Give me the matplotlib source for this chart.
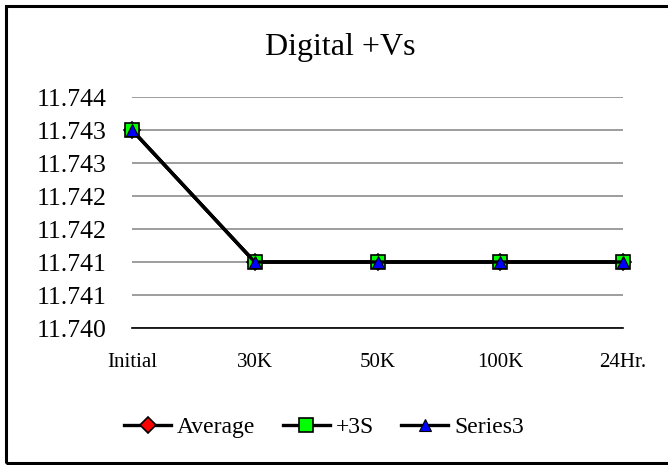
from decimal import Decimal, ROUND_HALF_UP
import matplotlib
matplotlib.use('Agg')
import matplotlib.pyplot as plt
from matplotlib.patches import Rectangle
from matplotlib.ticker import FuncFormatter, MultipleLocator

# data
categories = ['Initial', '30K', '50K', '100K', '24Hr.']
average = [11.7430, 11.7410, 11.7410, 11.7410, 11.7410]
plus_3s = [11.7430, 11.7410, 11.7410, 11.7410, 11.7410]
series3 = [11.7430, 11.7410, 11.7410, 11.7410, 11.7410]

plt.rcParams['font.family'] = 'Liberation Serif'

fig = plt.figure(figsize=(6.68, 4.65), dpi=100)
ax = fig.add_axes([132 / 668, 1 - 328 / 465, 491 / 668, 231 / 465])

x = range(len(categories))
ax.plot(x, average, color='black', lw=2.4, marker='D', markersize=8, clip_on=False,
        markerfacecolor='#ff0000', markeredgecolor='black', markeredgewidth=1.2, label='Average')
ax.plot(x, plus_3s, color='black', lw=2.4, marker='s', markersize=10, clip_on=False,
        markerfacecolor='#00ff00', markeredgecolor='black', markeredgewidth=1.2, label='+3S')
ax.plot(x, series3, color='black', lw=2.4, marker='^', markersize=9, clip_on=False,
        markerfacecolor='#0000ff', markeredgecolor='black', markeredgewidth=0.8, label='Series3')

ax.set_xlim(0, len(categories) - 1)
ax.set_ylim(11.7400, 11.7435)
ax.yaxis.set_major_locator(MultipleLocator(0.0005))

# excel rounds half up
def fmt(v, pos):
    return str(Decimal(str(round(v, 4))).quantize(Decimal('0.001'), rounding=ROUND_HALF_UP))

ax.yaxis.set_major_formatter(FuncFormatter(fmt))
ax.set_xticks(list(x))
ax.set_xticklabels(categories, fontsize=15)
ax.tick_params(axis='y', labelsize=18.5, length=0, pad=18)
ax.tick_params(axis='x', length=0, pad=18)

ax.grid(axis='y', color='#8c8c8c', lw=1.2)
ax.set_axisbelow(True)
for s in ['top', 'right', 'left']:
    ax.spines[s].set_visible(False)
ax.spines['bottom'].set_color('black')
ax.spines['bottom'].set_linewidth(1.2)
ax.spines['bottom'].set_zorder(3)

fig.text(340 / 668, 1 - 48 / 465, 'Digital +Vs', ha='center', va='center', fontsize=23)

fig.legend(loc='center', bbox_to_anchor=(324 / 668, 1 - 427 / 465), ncol=3, frameon=False,
           fontsize=17, handlelength=2.0, handletextpad=0.25, columnspacing=1.15)

# chart border
fig.patches.append(Rectangle((6 / 668, 1 - 463 / 465), 1.05, 457 / 465, transform=fig.transFigure,
                             fill=False, edgecolor='black', lw=2.2))

fig.savefig('out.png', dpi=100)
